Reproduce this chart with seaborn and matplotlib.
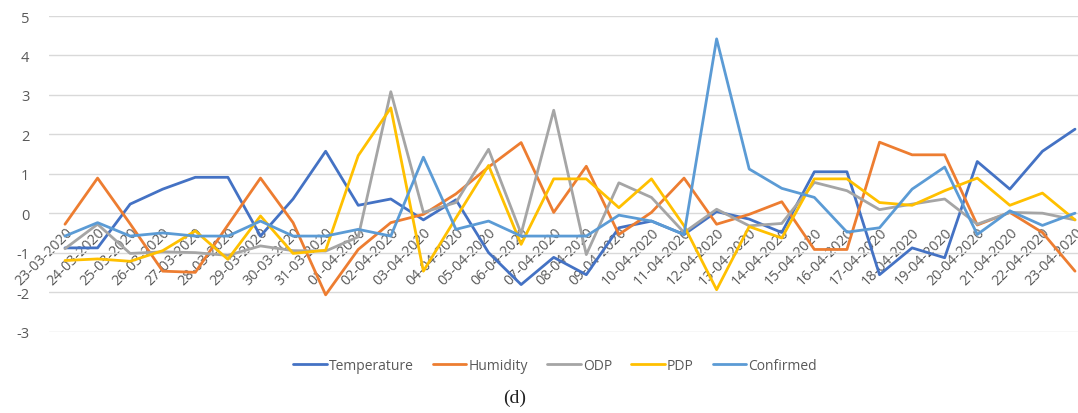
import numpy as np
import pandas as pd
import matplotlib
matplotlib.use("Agg")
import matplotlib.pyplot as plt
import seaborn as sns
from matplotlib.lines import Line2D

dates = ["23-03-2020", "24-03-2020", "25-03-2020", "26-03-2020", "27-03-2020", "28-03-2020",
         "29-03-2020", "30-03-2020", "31-03-2020", "01-04-2020", "02-04-2020", "03-04-2020",
         "04-04-2020", "05-04-2020", "06-04-2020", "07-04-2020", "08-04-2020", "09-04-2020",
         "10-04-2020", "11-04-2020", "12-04-2020", "13-04-2020", "14-04-2020", "15-04-2020",
         "16-04-2020", "17-04-2020", "18-04-2020", "19-04-2020", "20-04-2020", "21-04-2020",
         "22-04-2020", "23-04-2020"]

temperature = [-0.88, -0.88, 0.23, 0.61, 0.91, 0.91, -0.58, 0.36, 1.57, 0.20, 0.36, -0.17,
               0.34, -1.00, -1.81, -1.12, -1.56, -0.37, -0.20, -0.54, 0.04, -0.15, -0.49, 1.05,
               1.05, -1.56, -0.88, -1.13, 1.31, 0.61, 1.57, 2.13]
humidity = [-0.28, 0.89, -0.27, -1.47, -1.50, -0.30, 0.89, -0.24, -2.07, -0.92, -0.24, -0.03,
            0.49, 1.17, 1.79, 0.02, 1.19, -0.54, 0.02, 0.89, -0.28, -0.03, 0.29, -0.92,
            -0.92, 1.80, 1.48, 1.48, -0.30, 0.02, -0.49, -1.47]
odp = [-0.90, -0.28, -1.02, -0.98, -1.00, -1.07, -0.83, -0.95, -0.96, -0.60, 3.08, 0.02,
       0.27, 1.62, -0.52, 2.61, -1.05, 0.77, 0.40, -0.49, 0.10, -0.32, -0.26, 0.78,
       0.57, 0.09, 0.23, 0.36, -0.28, 0.02, 0.00, -0.17]
pdp = [-1.20, -1.16, -1.22, -0.95, -0.45, -1.17, -0.07, -1.02, -0.94, 1.46, 2.67, -1.47,
       -0.12, 1.21, -0.79, 0.87, 0.87, 0.14, 0.87, -0.32, -1.94, -0.34, -0.63, 0.87,
       0.87, 0.27, 0.20, 0.57, 0.89, 0.20, 0.51, -0.17]
confirmed = [-0.58, -0.24, -0.58, -0.50, -0.58, -0.58, -0.20, -0.58, -0.58, -0.41, -0.58, 1.42,
             -0.41, -0.20, -0.58, -0.58, -0.58, -0.05, -0.20, -0.54, 4.42, 1.12, 0.63, 0.40,
             -0.48, -0.37, 0.61, 1.17, -0.54, 0.06, -0.31, 0.00]

series_names = ["Temperature", "Humidity", "ODP", "PDP", "Confirmed"]
series_values = [temperature, humidity, odp, pdp, confirmed]
colors = ["#4472C4", "#ED7D31", "#A5A5A5", "#FFC000", "#5B9BD5"]
yticks = [-3, -2, -1, 0, 1, 2, 3, 4, 5]

rows = []
for name, vals in zip(series_names, series_values):
    for i, v in enumerate(vals):
        rows.append({"idx": i, "value": v, "series": name})
df = pd.DataFrame(rows)

sns.set_style("white")
plt.rcParams["font.family"] = ["Open Sans", "DejaVu Sans"]

W, H = 1078, 414
fig = plt.figure(figsize=(W / 100, H / 100), dpi=100)
left_px, right_px = 48.7, 1091.3
top_px, bot_px = 17, 332.5
ax = fig.add_axes([left_px / W, 1 - bot_px / H, (right_px - left_px) / W, (bot_px - top_px) / H])

sns.lineplot(data=df, x="idx", y="value", hue="series", hue_order=series_names,
             palette=colors, linewidth=2.0, ax=ax, legend=False, sort=False)

ax.set_xlim(-0.5, len(dates) - 0.5)
ax.set_ylim(-3, 5)
ax.set_yticks(yticks)
ax.set_yticklabels([str(t) for t in yticks], fontsize=10.5, color="#595959")
ax.yaxis.grid(True, color="#D9D9D9", linewidth=1.0)
ax.set_axisbelow(True)
for s in ax.spines.values():
    s.set_visible(False)
ax.spines["bottom"].set_position(("data", 0))
ax.set_xticks(range(len(dates)))
ax.set_xticklabels(dates, rotation=45, ha="right", rotation_mode="anchor",
                   fontsize=10.3, color="#595959")
ax.tick_params(axis="x", length=0, pad=8)
ax.tick_params(axis="y", length=0, pad=14)
ax.set_xlabel("")
ax.set_ylabel("")

handles = [Line2D([0], [0], color=c, linewidth=2.0) for c in colors]
leg = fig.legend(handles, series_names, loc="center", bbox_to_anchor=(0.515, 1 - 366 / H),
                 ncol=5, frameon=False, fontsize=10, handlelength=2.4,
                 handletextpad=0.15, columnspacing=1.4)
for t in leg.get_texts():
    t.set_color("#595959")

fig.text(0.477, 1 - 398 / H, "(d)", ha="center", va="center", fontsize=14,
         family="Liberation Serif", color="#222222")

fig.savefig("out.png", dpi=100)
